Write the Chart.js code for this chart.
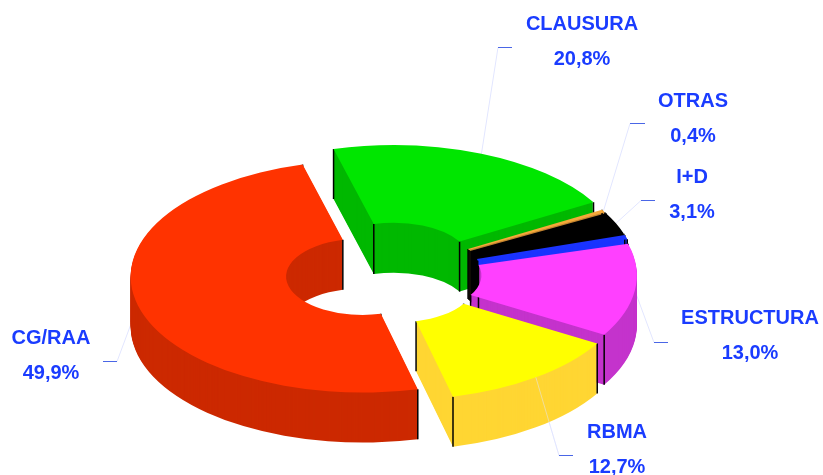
<!DOCTYPE html>
<html>
<head>
<meta charset="utf-8">
<title>Reparto</title>
<script src="https://cdn.jsdelivr.net/npm/chart.js@4/dist/chart.umd.js"></script>
<style>
  html, body { margin: 0; padding: 0; background: #fff; }
  canvas { display: block; }
</style>
</head>
<body>
<canvas id="chart" width="823" height="475"></canvas>
<script>
// Data (the thin blue slice carries no label)
const categories = ['CLAUSURA', 'OTRAS', 'I+D', '', 'ESTRUCTURA', 'RBMA', 'CG/RAA'];
const values = [20.8, 0.4, 3.1, 0.6, 13.0, 12.7, 49.9];

// Styles
const topColors = ['#00e600', '#f5a83a', '#000000', '#1a33ff', '#ff40ff', '#ffff00', '#ff3300'];
const wallColors = ['#00b800', '#c48430', '#000000', '#1a33ff', '#c433cc', '#ffd633', '#cc2900'];
const explode = [28, 22, 22, 22, 22, 25, 21];

// Where the labels sit: [text x, first baseline, tick x from, tick x to, tick y]
const labelBoxes = [
    [582, 30, 498, 512, 47],
    [693, 107, 630, 645, 123],
    [692, 183, 641, 655, 200],
    [],
    [750, 324, 654, 668, 342],
    [617, 438, 559, 573, 455],
    [51, 344, 103, 117, 361]
];

const centerX = 383;
const centerY = 274;
const squash = 0.5;
const depth = 50;

function toScreen(chart, arc, angle, r) {
    const area = chart.chartArea;
    const mx = (area.left + area.right) / 2;
    const my = (area.top + area.bottom) / 2;
    return {
        x: centerX + arc.x - mx + Math.cos(angle) * r,
        y: centerY + (arc.y - my + Math.sin(angle) * r) * squash
    };
}

function applySquash(chart, ctx) {
    const area = chart.chartArea;
    ctx.translate(centerX, centerY);
    ctx.scale(1, squash);
    ctx.translate(-(area.left + area.right) / 2, -(area.top + area.bottom) / 2);
}

// Thin line from the rim of a slice to the small tick next to its label
function drawLeader(chart, ctx, arc, i) {
    const [, , tickFrom, tickTo, tickY] = labelBoxes[i];
    const mid = (arc.startAngle + arc.endAngle) / 2;
    const rim = toScreen(chart, arc, mid, arc.outerRadius);
    ctx.save();
    ctx.lineWidth = 1;
    ctx.strokeStyle = '#e2e6ff';
    ctx.beginPath();
    ctx.moveTo(rim.x, rim.y);
    ctx.lineTo(rim.x > tickTo ? tickTo : tickFrom, tickY + 0.5);
    ctx.stroke();
    ctx.restore();
}

const pie3d = {
    id: 'pie3d',
    // Pull the slices apart here, arc.offset also grows the radius of big slices
    afterDatasetsUpdate(chart) {
        chart.getDatasetMeta(0).data.forEach((arc, i) => {
            const mid = (arc.startAngle + arc.endAngle) / 2;
            arc.x += Math.cos(mid) * explode[i];
            arc.y += Math.sin(mid) * explode[i];
        });
    },
    beforeDatasetsDraw(chart) {
        const ctx = chart.ctx;
        const arcs = chart.getDatasetMeta(0).data;

        // leaders go behind the slices
        arcs.forEach((arc, i) => {
            if (categories[i]) drawLeader(chart, ctx, arc, i);
        });

        arcs.forEach((arc, i) => {
            // walls: the same arc repeated downwards in the darker colour
            const original = arc.options;
            arc.options = Object.assign({}, original, { backgroundColor: wallColors[i] });
            for (let d = depth; d >= 1; d--) {
                ctx.save();
                ctx.translate(0, d);
                applySquash(chart, ctx);
                arc.draw(ctx);
                ctx.restore();
            }
            arc.options = original;

            // black lines on the wall corners
            ctx.save();
            ctx.strokeStyle = '#000';
            ctx.lineWidth = 1.5;
            [arc.startAngle, arc.endAngle].forEach(a => {
                [arc.innerRadius, arc.outerRadius].forEach(r => {
                    const p = toScreen(chart, arc, a, r);
                    ctx.beginPath();
                    ctx.moveTo(p.x, p.y);
                    ctx.lineTo(p.x, p.y + depth);
                    ctx.stroke();
                });
            });
            ctx.restore();
        });
        ctx.save();
        applySquash(chart, ctx);
    },
    afterDatasetsDraw(chart) {
        chart.ctx.restore();
    },
    afterDraw(chart) {
        const ctx = chart.ctx;
        chart.getDatasetMeta(0).data.forEach((arc, i) => {
            if (!categories[i]) return;
            const [textX, baseY, tickFrom, tickTo, tickY] = labelBoxes[i];

            // the RBMA leader shows faintly over its yellow wall
            if (categories[i] === 'RBMA') {
                ctx.save();
                ctx.globalAlpha = 0.5;
                drawLeader(chart, ctx, arc, i);
                ctx.restore();
            }

            ctx.save();
            ctx.lineWidth = 1;
            ctx.strokeStyle = '#4a66e6';
            ctx.beginPath();
            ctx.moveTo(tickFrom, tickY + 0.5);
            ctx.lineTo(tickTo, tickY + 0.5);
            ctx.stroke();

            ctx.fillStyle = '#1a3cff';
            ctx.font = 'bold 20px "Liberation Sans", Arial, sans-serif';
            ctx.textAlign = 'center';
            ctx.fillText(categories[i], textX, baseY);
            ctx.fillText(values[i].toFixed(1).replace('.', ',') + '%', textX, baseY + 35);
            ctx.restore();
        });
    }
};

new Chart(document.getElementById('chart'), {
    type: 'doughnut',
    data: {
        labels: categories,
        datasets: [{
            data: values,
            backgroundColor: topColors,
            borderWidth: 0,
            clip: false
        }]
    },
    options: {
        responsive: false,
        animation: false,
        rotation: -15,
        radius: 232,
        cutout: '33%',
        plugins: {
            legend: { display: false },
            tooltip: { enabled: false }
        }
    },
    plugins: [pie3d]
});
</script>
</body>
</html>
